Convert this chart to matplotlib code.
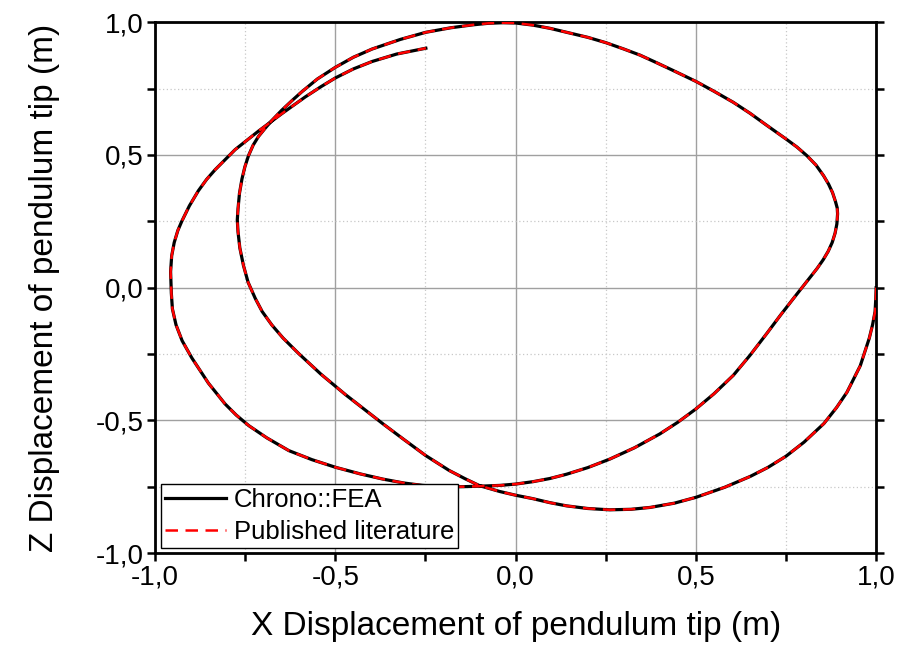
import matplotlib
matplotlib.use("Agg")
import matplotlib.pyplot as plt
from matplotlib.ticker import MultipleLocator, FuncFormatter

plt.rcParams['font.family'] = ['Liberation Sans', 'DejaVu Sans']

# Trajectory of pendulum tip (x, z)
x_vals = [1.000, 0.999, 0.997, 0.990, 0.981, 0.956, 0.919, 0.890, 0.855, 0.800, 0.750, 0.700, 0.651,
          0.580, 0.500, 0.440, 0.373, 0.320, 0.261, 0.200, 0.141, 0.095, 0.048, 0.000, -0.044, -0.100,
          -0.140, -0.184, -0.249, -0.310, -0.369, -0.420, -0.472, -0.540, -0.602, -0.645, -0.676, -0.703, -0.722,
          -0.742, -0.755, -0.765, -0.770, -0.772, -0.770, -0.766, -0.759, -0.751, -0.741, -0.728, -0.713,
          -0.695, -0.676, -0.649, -0.620, -0.593, -0.550, -0.500, -0.450, -0.398, -0.320, -0.249, -0.180,
          -0.119, -0.075, -0.035, 0.000, 0.048, 0.095, 0.141, 0.200,
          0.250, 0.300, 0.345, 0.390, 0.437, 0.500, 0.550, 0.604, 0.650, 0.697, 0.750, 0.780, 0.808, 0.833, 0.854, 0.868, 0.879,
          0.887, 0.892, 0.893, 0.891, 0.886, 0.878, 0.867, 0.853, 0.836, 0.815, 0.771, 0.735, 0.697, 0.650, 0.604, 0.550, 0.500,
          0.450, 0.400, 0.330, 0.261, 0.200,
          0.141, 0.095, 0.048, 0.000, -0.044, -0.100, -0.150, -0.200, -0.258, -0.310, -0.369, -0.430, -0.499, -0.565, -0.629, -0.690, -0.740,
          -0.775, -0.806, -0.852, -0.898, -0.925, -0.942, -0.952, -0.955, -0.957, -0.954, -0.947, -0.937, -0.926, -0.905, -0.880, -0.857, -0.833, -0.778,
          -0.713, -0.649, -0.584, -0.540, -0.500, -0.450, -0.398, -0.330, -0.249]
z_vals = [0.000, -0.040, -0.090, -0.140, -0.190, -0.294, -0.394, -0.452, -0.512, -0.582, -0.635, -0.677, -0.711,
          -0.752, -0.790, -0.812, -0.828, -0.835, -0.837, -0.832, -0.822, -0.810, -0.795, -0.782, -0.768, -0.746,
          -0.720, -0.689, -0.633, -0.572, -0.512, -0.458, -0.403, -0.326, -0.248, -0.190, -0.141, -0.090, -0.041,
          0.020, 0.084, 0.150, 0.210, 0.255, 0.297, 0.355, 0.410, 0.455, 0.497, 0.537, 0.570,
          0.600, 0.630, 0.668, 0.705, 0.738, 0.786, 0.830, 0.868, 0.899, 0.935, 0.962, 0.979,
          0.990, 0.996, 0.998, 0.997, 0.989, 0.977, 0.962, 0.943,
          0.923, 0.899, 0.876, 0.848, 0.818, 0.777, 0.740, 0.698, 0.657, 0.611, 0.560, 0.530, 0.497, 0.462, 0.422, 0.390, 0.358,
          0.325, 0.300, 0.278, 0.240, 0.205, 0.170, 0.137, 0.105, 0.072, 0.036, -0.040, -0.103, -0.172, -0.255, -0.330, -0.400, -0.457,
          -0.507, -0.551, -0.603, -0.646, -0.678,
          -0.703, -0.719, -0.731, -0.740, -0.745, -0.748, -0.750, -0.750, -0.745, -0.736, -0.721, -0.702, -0.677, -0.648, -0.614, -0.566, -0.520,
          -0.480, -0.438, -0.360, -0.265, -0.200, -0.140, -0.080, -0.020, 0.060, 0.120, 0.170, 0.215, 0.250, 0.308, 0.365, 0.408, 0.445, 0.520,
          0.590, 0.655, 0.718, 0.757, 0.790, 0.824, 0.852, 0.880, 0.902]

series_labels = ["Chrono::FEA", "Published literature"]

fig = plt.figure(figsize=(9.07, 6.53), dpi=100)
ax = fig.add_axes([0.171, 0.153, 0.795, 0.813])

ax.plot(x_vals, z_vals, color='black', lw=2.3, solid_joinstyle='round', label=series_labels[0], zorder=3)
ax.plot(x_vals, z_vals, color='#ff0000', lw=1.8, dashes=(5, 3), label=series_labels[1], zorder=4)

ax.set_xlim(-1, 1)
ax.set_ylim(-1, 1)
ax.xaxis.set_major_locator(MultipleLocator(0.5))
ax.yaxis.set_major_locator(MultipleLocator(0.5))
ax.xaxis.set_minor_locator(MultipleLocator(0.25))
ax.yaxis.set_minor_locator(MultipleLocator(0.25))
fmt = FuncFormatter(lambda v, p: f"{v:.1f}".replace('.', ',').replace('-0,0', '0,0'))
ax.xaxis.set_major_formatter(fmt)
ax.yaxis.set_major_formatter(fmt)

ax.grid(which='major', color='#a0a0a0', lw=1.0, ls='-', zorder=0)
ax.grid(which='minor', color='#c8c8c8', lw=0.9, ls=(0, (1, 2)), zorder=0)
ax.set_axisbelow(True)

for s in ax.spines.values():
    s.set_linewidth(2.0)
    s.set_color('black')

ax.tick_params(which='both', direction='out', length=6, width=1.8, labelsize=20,
               left=True, bottom=True, right=True, top=False, pad=2)

ax.set_xlabel("X Displacement of pendulum tip (m)", fontsize=24, labelpad=15)
ax.set_ylabel("Z Displacement of pendulum tip (m)", fontsize=24, labelpad=26)

leg = ax.legend(loc='lower left', bbox_to_anchor=(0.008, 0.010), fontsize=18.5,
                frameon=True, fancybox=False, framealpha=1, edgecolor='black',
                handlelength=2.4, handletextpad=0.3, borderpad=0.15, labelspacing=0.3,
                borderaxespad=0.0)
leg.get_frame().set_linewidth(1.0)

fig.savefig("out.png", dpi=100)
